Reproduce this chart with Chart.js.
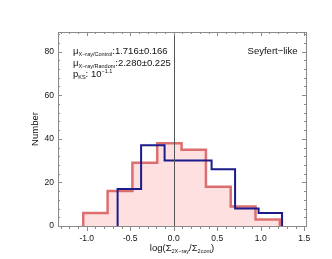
<!DOCTYPE html>
<html lang="en">
<head>
<meta charset="UTF-8">
<title>Seyfert-like histogram</title>
<script src="https://cdn.jsdelivr.net/npm/chart.js"></script>
<style>
  body { margin: 0; background: #fff; }
  canvas { display: block; }
</style>
</head>
<body>
<canvas id="histChart" width="332" height="259"></canvas>
<script>
// bin edges and counts
const redEdges = [-1.04, -0.76, -0.475, -0.19, 0.09, 0.37, 0.655, 0.94, 1.22];
const redCounts = [6, 16, 29, 38, 35, 18, 9, 3];
const blueEdges = [-0.645, -0.375, -0.105, 0.165, 0.435, 0.705, 0.975, 1.245];
const blueCounts = [17, 37, 30, 30, 26, 8, 6];

const xTickValues = [-1.0, -0.5, 0.0, 0.5, 1.0, 1.5];
const yTickValues = [0, 20, 40, 60, 80];
const xRange = [-1.33, 1.52];
const yRange = [0, 89];

const FONT = "'Liberation Sans', Arial, sans-serif";

// turn edges + counts into a closed step outline
function histPoints(edges, counts) {
    const pts = [{ x: edges[0], y: 0 }];
    counts.forEach((c, i) => pts.push({ x: edges[i], y: c }));
    pts.push({ x: edges[edges.length - 1], y: counts[counts.length - 1] });
    pts.push({ x: edges[edges.length - 1], y: 0 });
    return pts;
}

// draw text with sub/superscripts, parts = [[text, size, dy], ...]
function drawRich(ctx, x, y, parts, align) {
    let w = 0;
    parts.forEach(p => { ctx.font = p[1] + 'px ' + FONT; w += ctx.measureText(p[0]).width; });
    let cx = align === 'center' ? x - w / 2 : (align === 'right' ? x - w : x);
    ctx.textAlign = 'left';
    ctx.textBaseline = 'alphabetic';
    parts.forEach(p => {
        ctx.font = p[1] + 'px ' + FONT;
        ctx.fillText(p[0], cx, y + (p[2] || 0));
        cx += ctx.measureText(p[0]).width;
    });
}

const framePlugin = {
    id: 'frame',
    afterDatasetsDraw(chart) {
        const ctx = chart.ctx;
        const a = chart.chartArea;
        const xs = chart.scales.x, ys = chart.scales.y;
        ctx.save();

        // zero line
        ctx.strokeStyle = '#555';
        ctx.lineWidth = 1;
        const x0 = Math.round(xs.getPixelForValue(0)) + 0.5;
        ctx.beginPath(); ctx.moveTo(x0, a.top); ctx.lineTo(x0, a.bottom); ctx.stroke();

        // box
        ctx.strokeStyle = '#8a8a8a';
        ctx.strokeRect(Math.round(a.left) + 0.5, Math.round(a.top) + 0.5,
            Math.round(a.right - a.left), Math.round(a.bottom - a.top));

        // x ticks: minor every 0.1, major every 0.5
        for (let k = -13; k <= 15; k++) {
            const v = k / 10;
            const px = Math.round(xs.getPixelForValue(v)) + 0.5;
            const major = k % 5 === 0;
            const len = major ? 4 : 2;
            ctx.beginPath();
            ctx.moveTo(px, a.bottom); ctx.lineTo(px, a.bottom + len + 1);
            ctx.moveTo(px, a.top); ctx.lineTo(px, a.top + len);
            ctx.stroke();
        }
        // y ticks: minor every 4, major every 20
        for (let v = 0; v <= 88; v += 4) {
            const py = Math.round(ys.getPixelForValue(v)) + 0.5;
            const len = v % 20 === 0 ? 4 : 2;
            ctx.beginPath();
            ctx.moveTo(a.left, py); ctx.lineTo(a.left + len, py);
            ctx.moveTo(a.right, py); ctx.lineTo(a.right - len, py);
            ctx.stroke();
        }

        // annotations
        ctx.fillStyle = '#111';
        drawRich(ctx, 73, 54, [['\u03bc', 9.5], ['X\u2212ray/Control', 5.5, 2], [':1.716\u00b10.166', 9.5]]);
        drawRich(ctx, 73, 66, [['\u03bc', 9.5], ['X\u2212ray/Random', 5.5, 2], [':2.280\u00b10.225', 9.5]]);
        drawRich(ctx, 73, 77, [['p', 9.5], ['KS', 5.5, 2], [': 10', 9.5], ['\u22121.1', 5.5, -4]]);
        drawRich(ctx, 297.5, 54, [['Seyfert\u2212like', 9.5]], 'right');

        // axis titles
        drawRich(ctx, (a.left + a.right) / 2, 251,
            [['log(\u03a3', 9.5], ['2X\u2212ray', 5.5, 2], ['/\u03a3', 9.5], ['2cont', 5.5, 2], [')', 9.5]], 'center');
        ctx.translate(38, (a.top + a.bottom) / 2);
        ctx.rotate(-Math.PI / 2);
        drawRich(ctx, 0, 0, [['Number', 9.5]], 'center');
        ctx.restore();
    }
};

const ctx = document.getElementById('histChart').getContext('2d');
new Chart(ctx, {
    type: 'line',
    data: {
        datasets: [{
            label: 'X-ray',
            data: histPoints(blueEdges, blueCounts),
            stepped: 'before',
            borderColor: '#1b1b8c',
            borderWidth: 2,
            pointRadius: 0,
            fill: false,
            order: 0
        }, {
            label: 'Control',
            data: histPoints(redEdges, redCounts),
            stepped: 'before',
            borderColor: 'rgba(214, 88, 88, 0.85)',
            backgroundColor: 'rgba(255, 214, 214, 0.75)',
            borderWidth: 2.5,
            pointRadius: 0,
            fill: 'origin',
            order: 1
        }]
    },
    options: {
        responsive: false,
        animation: false,
        layout: { padding: { top: 32, right: 26, left: 0, bottom: 0 } },
        plugins: { legend: { display: false }, tooltip: { enabled: false } },
        scales: {
            x: {
                type: 'linear',
                min: xRange[0],
                max: xRange[1],
                afterFit: s => { s.height = 33; },
                afterBuildTicks: s => { s.ticks = xTickValues.map(v => ({ value: v })); },
                grid: { display: false, drawTicks: false },
                border: { display: false },
                ticks: {
                    autoSkip: false,
                    maxRotation: 0,
                    padding: 8,
                    color: '#111',
                    font: { family: FONT, size: 8.5 },
                    callback: v => v.toFixed(1)
                }
            },
            y: {
                type: 'linear',
                min: yRange[0],
                max: yRange[1],
                afterFit: s => { s.width = 58; },
                afterBuildTicks: s => { s.ticks = yTickValues.map(v => ({ value: v })); },
                grid: { display: false, drawTicks: false },
                border: { display: false },
                ticks: {
                    padding: 4,
                    color: '#111',
                    font: { family: FONT, size: 8.5 },
                    callback: v => String(v)
                }
            }
        }
    },
    plugins: [framePlugin]
});
</script>
</body>
</html>
